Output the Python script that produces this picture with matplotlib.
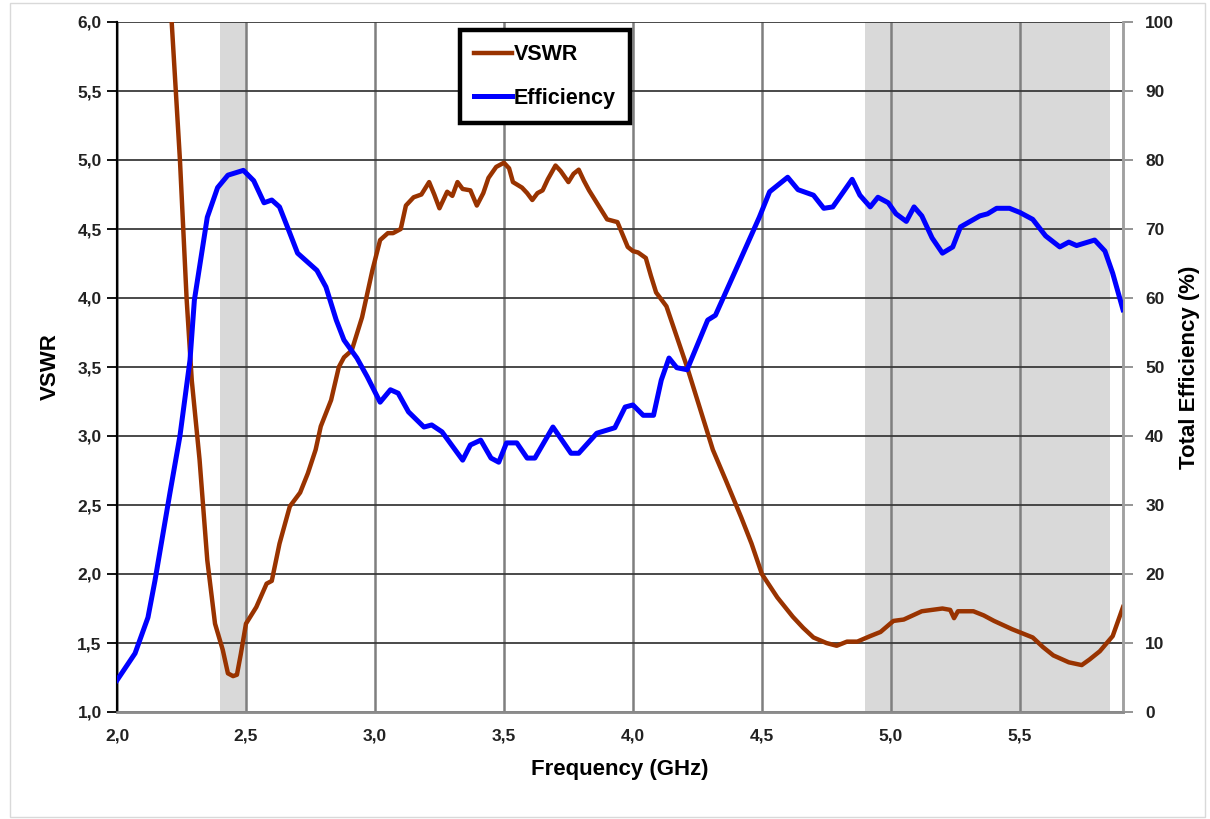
import numpy as np
import matplotlib.pyplot as plt
from matplotlib.ticker import MultipleLocator, FuncFormatter
from matplotlib.patches import Rectangle

plt.rcParams['font.family'] = ['Liberation Sans', 'DejaVu Sans']

# VSWR trace (GHz, VSWR)
vswr_freq = [2.204, 2.244, 2.27, 2.29, 2.32, 2.35, 2.38, 2.41, 2.43, 2.45, 2.465, 2.48,
             2.50, 2.52, 2.54, 2.58, 2.60, 2.63, 2.67, 2.71, 2.74, 2.77, 2.79, 2.83,
             2.86, 2.88, 2.91, 2.95, 2.99, 3.02, 3.05, 3.07, 3.10, 3.12, 3.15, 3.18,
             3.21, 3.23, 3.25, 3.28, 3.30, 3.32, 3.34, 3.37, 3.395, 3.42, 3.44, 3.47,
             3.50, 3.52, 3.535, 3.57, 3.59, 3.61, 3.63, 3.65, 3.67, 3.70, 3.72, 3.75,
             3.77, 3.79, 3.81, 3.83, 3.85, 3.87, 3.89, 3.90, 3.94, 3.96, 3.98, 4.00,
             4.02, 4.05, 4.07, 4.09, 4.13, 4.17, 4.21, 4.26, 4.31, 4.36, 4.42, 4.46,
             4.50, 4.56, 4.62, 4.66, 4.70, 4.75, 4.79, 4.83, 4.87, 4.92, 4.96, 5.01,
             5.05, 5.085, 5.12, 5.16, 5.20, 5.23, 5.245, 5.26, 5.32, 5.36, 5.40, 5.47,
             5.55, 5.59, 5.63, 5.69, 5.74, 5.77, 5.81, 5.86, 5.90]
vswr_vals = [6.25, 5.00, 3.99, 3.40, 2.83, 2.10, 1.64, 1.45, 1.28, 1.26, 1.27, 1.42,
             1.64, 1.70, 1.76, 1.93, 1.95, 2.22, 2.49, 2.59, 2.73, 2.90, 3.07, 3.26,
             3.50, 3.57, 3.62, 3.86, 4.20, 4.42, 4.47, 4.47, 4.50, 4.67, 4.73, 4.75,
             4.84, 4.75, 4.65, 4.77, 4.74, 4.84, 4.79, 4.78, 4.67, 4.76, 4.87, 4.95,
             4.98, 4.94, 4.84, 4.80, 4.76, 4.71, 4.76, 4.78, 4.86, 4.96, 4.92, 4.84,
             4.90, 4.93, 4.85, 4.78, 4.72, 4.66, 4.60, 4.57, 4.55, 4.46, 4.37, 4.34,
             4.33, 4.29, 4.16, 4.04, 3.94, 3.72, 3.50, 3.20, 2.90, 2.68, 2.41, 2.22,
             2.00, 1.83, 1.69, 1.61, 1.54, 1.50, 1.48, 1.51, 1.51, 1.55, 1.58, 1.66,
             1.67, 1.70, 1.73, 1.74, 1.75, 1.74, 1.68, 1.73, 1.73, 1.70, 1.66, 1.60,
             1.54, 1.47, 1.41, 1.36, 1.34, 1.38, 1.44, 1.55, 1.76]

# total efficiency (GHz, %)
eff_freq = [2.00, 2.07, 2.12, 2.147, 2.205, 2.244, 2.283, 2.30, 2.35, 2.39, 2.43, 2.49,
            2.53, 2.57, 2.60, 2.63, 2.67, 2.70, 2.775, 2.81, 2.85, 2.88, 2.93, 2.97,
            3.02, 3.06, 3.09, 3.13, 3.19, 3.22, 3.26, 3.34, 3.37, 3.41, 3.45, 3.48,
            3.51, 3.55, 3.59, 3.62, 3.69, 3.76, 3.79, 3.86, 3.93, 3.97, 4.00, 4.04,
            4.08, 4.11, 4.14, 4.17, 4.21, 4.29, 4.32, 4.41, 4.49, 4.53, 4.60, 4.64,
            4.70, 4.74, 4.775, 4.85, 4.88, 4.92, 4.95, 4.99, 5.02, 5.06, 5.09, 5.12,
            5.16, 5.20, 5.24, 5.27, 5.345, 5.375, 5.41, 5.46, 5.50, 5.55, 5.60, 5.655,
            5.69, 5.72, 5.79, 5.83, 5.86, 5.90]
eff_vals = [4.6, 8.5, 13.7, 19.0, 31.7, 40.0, 51.0, 59.7, 71.7, 76.0, 77.8, 78.5,
            77.0, 73.8, 74.2, 73.2, 69.4, 66.5, 64.0, 61.6, 56.8, 53.9, 51.3, 48.6,
            44.9, 46.7, 46.2, 43.5, 41.3, 41.6, 40.6, 36.5, 38.7, 39.4, 36.8, 36.2,
            39.0, 39.0, 36.8, 36.8, 41.3, 37.5, 37.5, 40.4, 41.2, 44.2, 44.5, 43.0,
            43.0, 48.1, 51.3, 49.9, 49.6, 56.8, 57.5, 65.0, 71.7, 75.4, 77.5, 75.7,
            74.9, 73.0, 73.2, 77.2, 74.9, 73.2, 74.6, 73.8, 72.2, 71.1, 73.2, 71.9,
            68.7, 66.5, 67.4, 70.3, 71.9, 72.2, 73.0, 73.0, 72.4, 71.4, 69.0, 67.4,
            68.1, 67.6, 68.4, 66.8, 63.6, 58.3]

# shaded bands (GHz)
bands = [(2.4, 2.5), (4.9, 5.85)]

fig = plt.figure(figsize=(12.1, 8.19), dpi=100)
ax = fig.add_axes([117 / 1210, 1 - 712 / 819, 1006 / 1210, 690 / 819])
ax2 = ax.twinx()

for lo, hi in bands:
    ax.axvspan(lo, hi, color='#d9d9d9', lw=0, zorder=0.2)

ax.set_axisbelow(True)
ax.grid(axis='x', color='#7f7f7f', lw=1.8)
ax.grid(axis='y', color='#3a3a3a', lw=1.3)

l1, = ax.plot(vswr_freq, vswr_vals, color='#993300', lw=3.2, label='VSWR',
              solid_joinstyle='round', zorder=3)
l2, = ax2.plot(eff_freq, eff_vals, color='#0000ff', lw=3.6, label='Efficiency',
               solid_joinstyle='round', zorder=3)

ax.set_xlim(2.0, 5.9)
ax.set_ylim(1.0, 6.0)
ax2.set_ylim(0, 100)
ax.xaxis.set_major_locator(MultipleLocator(0.5))
ax.yaxis.set_major_locator(MultipleLocator(0.5))
ax2.yaxis.set_major_locator(MultipleLocator(10))
comma = FuncFormatter(lambda v, p: ('%.1f' % v).replace('.', ','))
ax.xaxis.set_major_formatter(comma)
ax.yaxis.set_major_formatter(comma)
ax2.yaxis.set_major_formatter(FuncFormatter(lambda v, p: '%d' % v))

for lab in ax.get_xticklabels() + ax.get_yticklabels() + ax2.get_yticklabels():
    lab.set_fontweight('bold')
    lab.set_fontsize(12.5)
ax.tick_params(axis='x', length=0, pad=12, colors='#222222')
ax.tick_params(axis='y', length=7, width=1.3, color='black', pad=4, labelcolor='#222222')
ax2.tick_params(axis='y', length=7, width=1.3, color='#8c8c8c', pad=9, labelcolor='#222222')

for a in (ax, ax2):
    a.spines['top'].set_visible(False)
    a.spines['bottom'].set_color('#8c8c8c')
    a.spines['bottom'].set_linewidth(1.8)
    a.spines['right'].set_color('#a0a0a0')
    a.spines['right'].set_linewidth(1.8)
    a.spines['left'].set_color('black')
    a.spines['left'].set_linewidth(1.5)
ax2.patch.set_visible(False)

ax.set_xlabel('Frequency (GHz)', fontsize=16, fontweight='bold')
ax.set_ylabel('VSWR', fontsize=16, fontweight='bold')
ax2.set_ylabel('Total Efficiency (%)', fontsize=16, fontweight='bold')
ax.xaxis.set_label_coords(0.5, -0.084)
ax.yaxis.set_label_coords(-0.0666, 0.5)
ax2.yaxis.set_label_coords(1.0666, 0.5)
ax.yaxis.label.set_va('center')
ax2.yaxis.label.set_va('center')
ax.xaxis.label.set_va('center')

leg = ax2.legend(handles=[l1, l2], loc='upper left', bbox_to_anchor=(0.341, 0.988),
                 prop={'weight': 'bold', 'size': 15.5}, frameon=True, framealpha=1,
                 fancybox=False, handlelength=1.75, handletextpad=0.1,
                 labelspacing=1.05, borderpad=0.65, borderaxespad=0)
leg.get_frame().set_edgecolor('black')
leg.get_frame().set_linewidth(3.2)
leg.set_zorder(10)

# faint outer chart-area frame
fig.patches.append(Rectangle((10 / 1210, 2 / 819), 1195 / 1210, 814 / 819,
                             transform=fig.transFigure, fill=False,
                             edgecolor='#d9d9d9', lw=1))

fig.savefig('out.png', dpi=100)
